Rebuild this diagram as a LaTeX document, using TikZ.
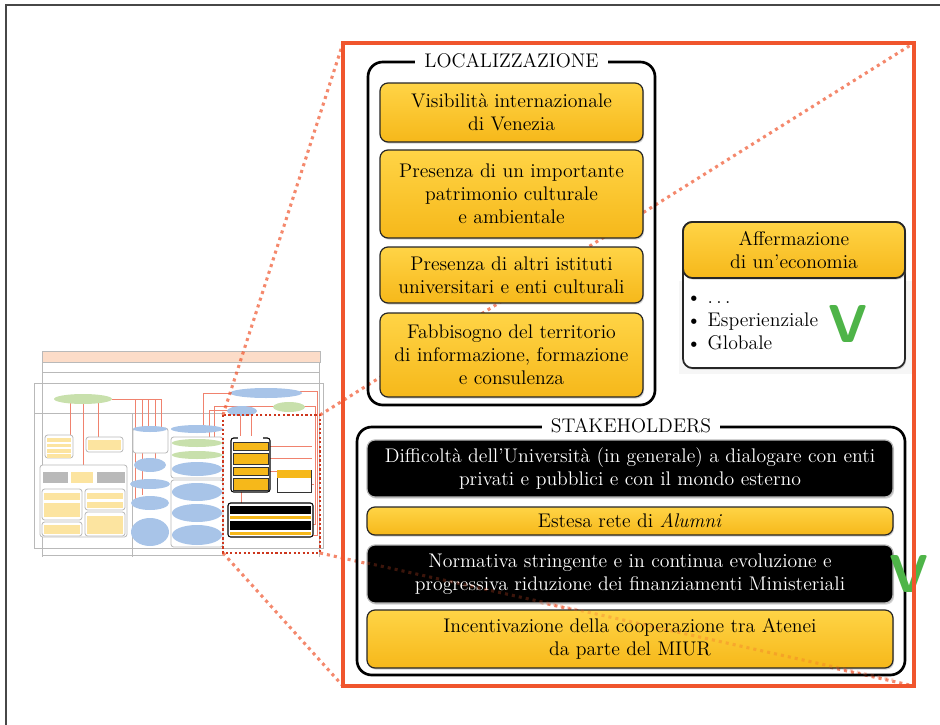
\documentclass[tikz,border=0pt]{standalone}
\usepackage{fontspec}
\usetikzlibrary{shadows,calc}
\definecolor{ylwtop}{RGB}{255,212,70}
\definecolor{ylwbot}{RGB}{246,184,26}
\definecolor{orng}{RGB}{240,85,45}
\definecolor{dotred}{RGB}{205,55,30}
\definecolor{vgreen}{RGB}{78,180,72}
\definecolor{peach}{RGB}{252,220,200}
\definecolor{thblue}{RGB}{168,196,232}
\definecolor{thgreen}{RGB}{200,224,172}
\definecolor{thylw}{RGB}{252,228,160}
\definecolor{thred}{RGB}{240,130,110}
\definecolor{thgray}{RGB}{185,185,185}
\newcommand\bodyfont{\fontsize{14.8}{17.4}\selectfont}
\tikzset{
 ybox/.style={draw=black!85, line width=0.9pt, rounded corners=6pt, top color=ylwtop, bottom color=ylwbot,
   drop shadow={opacity=0.35, shadow xshift=0.8pt, shadow yshift=-1.2pt}, align=center, font=\bodyfont, inner sep=0pt},
 bbox/.style={draw=gray!55, line width=0.9pt, rounded corners=6pt, fill=black, text=white,
   drop shadow={opacity=0.35, shadow xshift=0.8pt, shadow yshift=-1.2pt}, align=center, font=\bodyfont, inner sep=0pt},
 grp/.style={draw=black, line width=2pt, rounded corners=11pt, inner sep=0pt},
 grptitle/.style={fill=white, inner xsep=7pt, inner ysep=1pt, font=\bodyfont},
 bigdots/.style={draw=orng, draw opacity=0.7, line width=2.3pt, dash pattern=on 2.3pt off 3pt},
 vmark/.style={text=vgreen, font=\sffamily\bfseries\fontsize{40}{40}\selectfont, inner sep=0pt},
 thline/.style={draw=thgray, line width=0.5pt},
 thcon/.style={draw=thred, line width=0.45pt},
 thgrp/.style={draw=thgray, line width=0.6pt, rounded corners=2pt, fill=white},
}
\begin{document}
\begin{tikzpicture}[x=0.75pt,y=-0.75pt]
\useasboundingbox (0,0) rectangle (940,725);
% page frame
\draw[line width=1.1pt, black!72] (6,725) -- (6,5) -- (940,5);

% ---------------- thumbnail ----------------
\draw[thline] (42,351) -- (42,557);
\draw[thline] (319,351) -- (319,557);
\fill[peach] (42,351) rectangle (320,362);
\draw[thline] (42,351) rectangle (320,362);
\draw[thline] (42,372) -- (320,372);
\draw[thline] (34,383) rectangle (323,548);
\draw[thline] (34,413) -- (223,413);
\draw[thline] (132,413) -- (132,557);
\draw[thline] (42,555) -- (223,555);
% connectors
\draw[thcon] (112,399) -- (162,399);
\foreach \xx/\yy in {135/500,142/495,148/440,155/462,161/430} \draw[thcon] (\xx,399) -- (\xx,\yy);
\draw[thcon] (70,403) -- (70,436);
\draw[thcon] (83,404) -- (83,466);
\draw[thcon] (98,403) -- (98,437);
\draw[thcon] (203,425) -- (203,393) -- (232,393);
\draw[thcon] (300,391) -- (317,391) -- (317,535) -- (311,535);
\draw[thcon] (209,437) -- (209,410) -- (228,410);
\draw[thcon] (214,437) -- (214,406) -- (315,406) -- (315,524) -- (311,524);
\draw[thcon] (270,446) -- (312,446);
\draw[thcon] (270,458) -- (312,458);
\draw[thcon] (270,471) -- (277,471);
\draw[thcon] (311,484) -- (314,484);
\draw[thcon] (240,410) -- (240,455);
\draw[thcon] (251,410) -- (251,475);
\draw[thcon] (241,492) -- (241,512);
% ellipses top
\fill[thgreen] (83,399) ellipse (29 and 5);
\fill[thblue] (266,393) ellipse (36 and 5);
\fill[thgreen] (289,407) ellipse (16 and 5);
\fill[thblue] (242,411) ellipse (15 and 5);
% left column
\draw[thgrp] (45,435) rectangle (73,458);
\foreach \yy in {438,443.5,449,454} \fill[thylw] (47,\yy) rectangle (71,\yy+3.5);
\draw[thgrp] (86,437) rectangle (123,452);
\fill[thylw] (88,440) rectangle (121,450);
\draw[thgrp] (40,465) rectangle (127,537);
\fill[gray!55] (43,472) rectangle (68,483);
\fill[thylw] (71,472) rectangle (93,483);
\fill[gray!55] (97,472) rectangle (125,483);
\draw[thgrp] (42,489) rectangle (82,520);
\draw[thgrp] (85,489) rectangle (125,510);
\draw[thgrp] (42,522) rectangle (82,536);
\draw[thgrp] (85,512) rectangle (125,536);
\fill[thylw] (44,493) rectangle (80,500);
\fill[thylw] (44,503) rectangle (80,517);
\fill[thylw] (87,493) rectangle (123,499);
\fill[thylw] (87,502) rectangle (123,508);
\fill[thylw] (44,525) rectangle (80,534);
\fill[thylw] (87,516) rectangle (123,534);
% middle column
\draw[thgrp] (133,428) rectangle (168,453);
\fill[thblue] (150,429) ellipse (17 and 3);
\fill[thblue] (150,465) ellipse (16 and 7);
\fill[thblue] (150,484) ellipse (20 and 5);
\fill[thblue] (150,503) ellipse (19 and 7);
\fill[thblue] (150,532) ellipse (19 and 14);
% third column
\fill[thblue] (197,429) ellipse (26 and 4);
\draw[thgrp] (171,437) rectangle (223,478);
\fill[thgreen] (197,443) ellipse (25 and 4);
\fill[thgreen] (197,455) ellipse (25 and 4);
\fill[thblue] (197,469) ellipse (25 and 7);
\draw[thgrp] (171,480) rectangle (223,547);
\fill[thblue] (197,492) ellipse (25 and 9);
\fill[thblue] (197,513) ellipse (25 and 9);
\fill[thblue] (197,535) ellipse (25 and 10);
% mini copy of the zoomed part
\draw[black, line width=0.8pt, rounded corners=2pt, fill=white] (231,438) rectangle (270,492);
\fill[white] (238,436) rectangle (263,440);
\foreach \ya/\yb in {442/450,453/464,467/475,478/490} \draw[black!80, line width=0.3pt, fill=ylwbot] (233,\ya) rectangle (268,\yb);
\draw[black!80, line width=0.4pt, fill=white] (277,470) rectangle (311,492);
\fill[ylwbot] (277,470) rectangle (311,478);
\draw[black, line width=0.8pt, rounded corners=2pt, fill=white] (228,503) rectangle (313,537);
\fill[black] (230,506) rectangle (311,514);
\fill[ylwbot] (230,516) rectangle (311,519);
\fill[black] (230,521) rectangle (311,530);
\fill[ylwbot] (230,532) rectangle (311,535);
% small dotted frame
\draw[dotred, line width=1.7pt, dash pattern=on 1.7pt off 1.7pt] (223,415) rectangle (320,553);

% ---------------- zoom lines ----------------
\coordinate (sTL) at (223,415);
\coordinate (sTR) at (320,415);
\coordinate (sBR) at (320,553);
\coordinate (sBL) at (223,553);
\coordinate (bTL) at (343,43);
\coordinate (bTR) at (914,43);
\coordinate (bBR) at (914,686);
\coordinate (bBL) at (343,686);
\draw[bigdots] (sTL) -- (bTL);
\draw[bigdots] (sTR) -- (bTR);
\draw[bigdots] (sBR) -- (bBR);
\draw[bigdots] (sBL) -- (bBL);

% ---------------- LOCALIZZAZIONE ----------------
\node[grp, minimum width=215.25pt, minimum height=257.25pt] (loc) at (511.5,233.5) {};
\node[grptitle] (loctitle) at (loc.north) {LOCALIZZAZIONE};
\node[ybox, minimum width=197.25pt, minimum height=44.25pt] (l1) at (511.5,112.5) {Visibilità internazionale\\di Venezia};
\node[ybox, minimum width=197.25pt, minimum height=66pt] (l2) at (511.5,194) {Presenza di un importante\\patrimonio culturale\\e ambientale};
\node[ybox, minimum width=197.25pt, minimum height=42pt] (l3) at (511.5,275) {Presenza di altri istituti\\universitari e enti culturali};
\node[ybox, minimum width=197.25pt, minimum height=63pt] (l4) at (511.5,355) {Fabbisogno del territorio\\di informazione, formazione\\e consulenza};

% ---------------- Affermazione ----------------
\fill[gray!7] (679,281) rectangle (913,374);
\node[draw=black!85, line width=1.3pt, rounded corners=7pt, fill=white, minimum width=166.5pt, minimum height=109.5pt,
  drop shadow={opacity=0.3, shadow xshift=0.8pt, shadow yshift=-1.2pt}] (aff) at (794,295) {};
\node[ybox, line width=1.3pt, rounded corners=7pt, minimum width=166.5pt, minimum height=42pt] (affh) at (794,250) {Affermazione\\di un’economia};
\node[anchor=west, align=left, font=\bodyfont, inner sep=0pt] (affl) at (686,323) {\textbullet\ .\,.\,.\\\textbullet\ Esperienziale\\\textbullet\ Globale};
\node[vmark] (v1) at (848,324) {V};

% ---------------- STAKEHOLDERS ----------------
\node[grp, minimum width=411pt, minimum height=186pt] (stk) at (631,551) {};
\node[grptitle] (stktitle) at (stk.north) {STAKEHOLDERS};
\node[bbox, minimum width=394.5pt, minimum height=42.75pt] (s1) at (630,468.5) {Difficoltà dell’Università (in generale) a dialogare con enti\\privati e pubblici e con il mondo esterno};
\node[ybox, minimum width=394.5pt, minimum height=21pt] (s2) at (630,521) {Estesa rete di \textit{Alumni}};
\node[bbox, minimum width=394.5pt, minimum height=43.5pt] (s3) at (630,574) {Normativa stringente e in continua evoluzione e\\progressiva riduzione dei finanziamenti Ministeriali};
\node[ybox, minimum width=394.5pt, minimum height=43.5pt] (s4) at (630,639) {Incentivazione della cooperazione tra Atenei\\da parte del MIUR};
\draw[bigdots, draw opacity=0.25] (367,563) -- (893,680);
\node[vmark] (v2) at (909,574) {V};

% big orange frame
\draw[orng, line width=2.3pt] (bTL) rectangle (bBR);
\end{tikzpicture}
\end{document}
